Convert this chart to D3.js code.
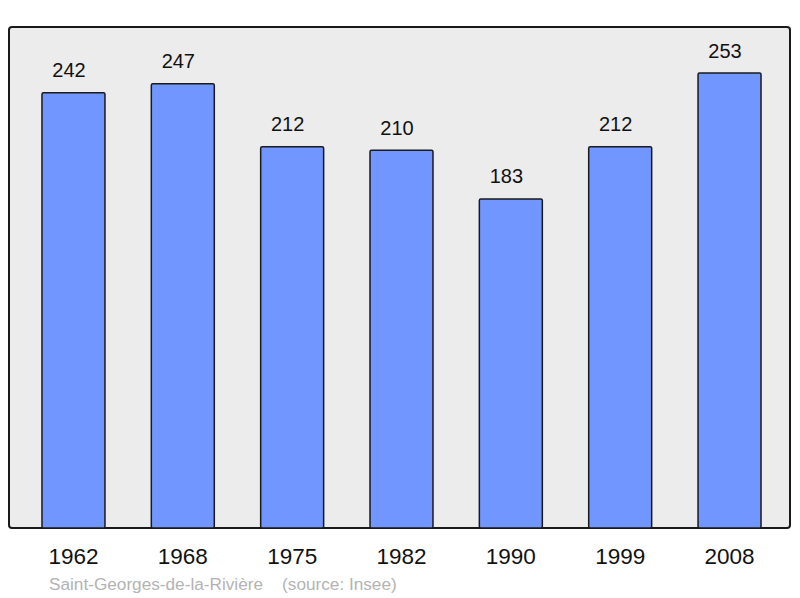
<!DOCTYPE html>
<html>
<head>
<meta charset="utf-8">
<script src="https://cdn.jsdelivr.net/npm/d3@7"></script>
<style>
  body { margin: 0; background: #fff; }
  text { font-family: "Liberation Sans", Arial, sans-serif; }
</style>
</head>
<body>
<svg id="chart"></svg>
<script>
// population by census year
const years = ["1962", "1968", "1975", "1982", "1990", "1999", "2008"]
const population = [242, 247, 212, 210, 183, 212, 253]
const commune = "Saint-Georges-de-la-Rivière"
const source = "(source: Insee)"

const width = 800, height = 598

// the grey panel
const panel = { left: 9, top: 27, right: 790, bottom: 528 }

const svg = d3.select("#chart")
    .attr("width", width)
    .attr("height", height)

const xScale = d3.scaleBand()
    .domain(years)
    .range([18.8, 784.2])
    .paddingInner(0.424)
    .paddingOuter(0.212)

const yScale = d3.scaleLinear()
    .domain([0, 278.6])
    .range([panel.bottom, panel.top])

svg.append("rect")
    .attr("x", panel.left)
    .attr("y", panel.top)
    .attr("width", panel.right - panel.left)
    .attr("height", panel.bottom - panel.top)
    .attr("rx", 3)
    .attr("fill", "#ececec")
    .attr("stroke", "#1a1a1a")
    .attr("stroke-width", 2)

const data = years.map((y, i) => ({ year: y, value: population[i] }))

svg.append("g")
  .selectAll("rect")
  .data(data)
  .join("rect")
    .attr("x", d => xScale(d.year))
    .attr("y", d => yScale(d.value))
    .attr("width", xScale.bandwidth())
    .attr("height", d => yScale(0) - yScale(d.value))
    .attr("rx", 1.5)
    .attr("fill", "#7196ff")
    .attr("stroke", "#1a1a1a")
    .attr("stroke-width", 1.5)

// value labels above bars (sit a little left of centre in the original)
svg.append("g")
  .selectAll("text")
  .data(data)
  .join("text")
    .attr("x", d => xScale(d.year) + xScale.bandwidth() / 2 - 4.5)
    .attr("y", d => yScale(d.value) - 15.5)
    .attr("text-anchor", "middle")
    .attr("font-size", 20)
    .attr("fill", "#111")
    .text(d => d.value)

// year axis, drawn with d3 axis but without lines
const xAxis = svg.append("g")
    .attr("transform", `translate(0, ${panel.bottom})`)
    .call(d3.axisBottom(xScale).tickSize(0).tickPadding(0))
xAxis.select(".domain").remove()
xAxis.selectAll("text")
    .attr("y", 36)
    .attr("dy", 0)
    .attr("font-size", 22.5)
    .attr("font-family", "Liberation Sans, Arial, sans-serif")
    .attr("fill", "#111")

svg.append("text")
    .attr("x", 49)
    .attr("y", 590)
    .attr("font-size", 17.2)
    .attr("fill", "#b3b3b3")
    .attr("xml:space", "preserve")
    .text(commune + "    " + source)
</script>
</body>
</html>
